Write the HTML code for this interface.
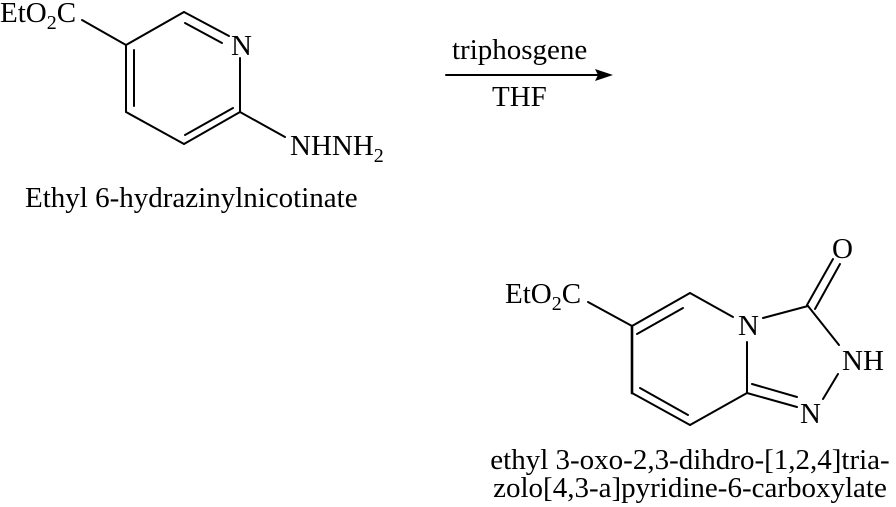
<!DOCTYPE html>
<html><head><meta charset="utf-8"><style>
html,body{margin:0;padding:0;background:#fff;}
svg{display:block;}
text{font-family:"Liberation Serif",serif;fill:#000;}
</style></head><body>
<svg width="896" height="507" viewBox="0 0 896 507" xmlns="http://www.w3.org/2000/svg">
<g stroke="#000" stroke-width="2" fill="none" stroke-linecap="round">
<line x1="82" y1="20" x2="126" y2="45"/>
<line x1="126" y1="45" x2="184" y2="12"/>
<line x1="184" y1="12" x2="229" y2="36"/>
<line x1="185" y1="23" x2="222" y2="43"/>
<line x1="240" y1="58" x2="240" y2="112"/>
<line x1="126" y1="45" x2="126" y2="112"/>
<line x1="134" y1="50" x2="134" y2="106"/>
<line x1="126" y1="112" x2="184" y2="144"/>
<line x1="184" y1="144" x2="240" y2="112"/>
<line x1="185" y1="135" x2="233" y2="108"/>
<line x1="240" y1="112" x2="285" y2="137"/>
<line x1="446" y1="75" x2="600" y2="75"/>
<line x1="588" y1="302" x2="632" y2="326"/>
<line x1="632" y1="326" x2="690" y2="293"/>
<line x1="637" y1="334" x2="683" y2="308"/>
<line x1="690" y1="293" x2="733" y2="317"/>
<line x1="632" y1="326" x2="632" y2="393" stroke-width="2.6"/>
<line x1="632" y1="393" x2="690" y2="425"/>
<line x1="640" y1="388" x2="688" y2="415"/>
<line x1="690" y1="425" x2="747" y2="393"/>
<line x1="747" y1="342" x2="747" y2="393"/>
<line x1="763" y1="318" x2="808" y2="306"/>
<line x1="807" y1="305" x2="833" y2="259"/>
<line x1="815" y1="309" x2="840" y2="264"/>
<line x1="808" y1="306" x2="839" y2="345"/>
<line x1="838" y1="374" x2="823" y2="399"/>
<line x1="747" y1="393" x2="797" y2="407"/>
<line x1="752" y1="384" x2="797" y2="397"/>
</g>
<polygon points="613,75 595,69 598,75 595,81" fill="#000"/>
<g font-size="29">
<text x="0" y="22">EtO<tspan font-size="20" dy="7">2</tspan><tspan dy="-7">C</tspan></text>
<text x="231" y="55">N</text>
<text x="290" y="155">NHNH<tspan font-size="20" dy="7">2</tspan></text>
<text x="505" y="303">EtO<tspan font-size="20" dy="7">2</tspan><tspan dy="-7">C</tspan></text>
<text x="738" y="335">N</text>
<text x="832" y="258">O</text>
<text x="842" y="370">NH</text>
<text x="800" y="423">N</text>
<text x="452" y="59">triphosgene</text>
<text x="492" y="106">THF</text>
<text x="25" y="207">Ethyl 6-hydrazinylnicotinate</text>
<text x="690" y="469" text-anchor="middle">ethyl 3-oxo-2,3-dihdro-[1,2,4]tria-</text>
<text x="690" y="497" text-anchor="middle">zolo[4,3-a]pyridine-6-carboxylate</text>
</g>
</svg>
</body></html>
